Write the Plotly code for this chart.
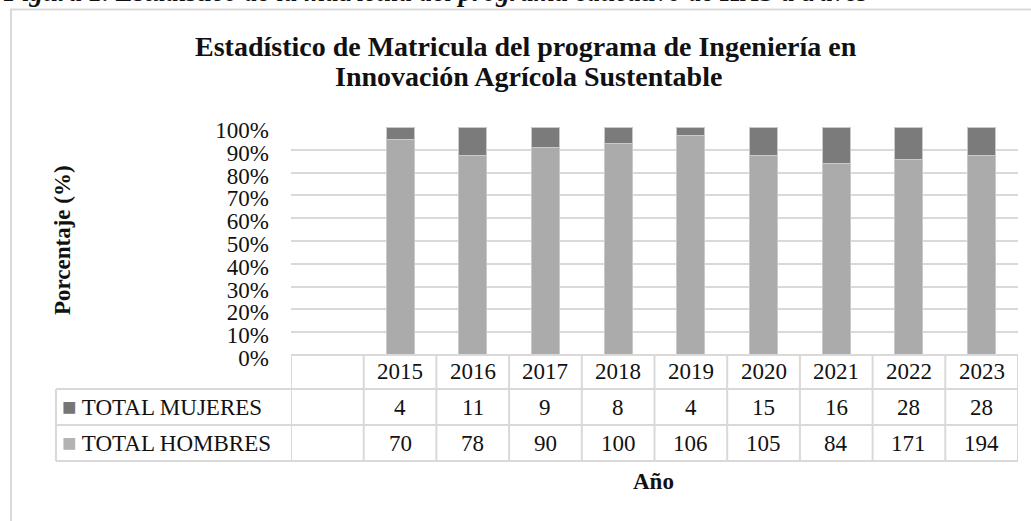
import plotly.graph_objects as go

# ---------------- data ----------------
years = ["2015", "2016", "2017", "2018", "2019", "2020", "2021", "2022", "2023"]
total_mujeres = [4, 11, 9, 8, 4, 15, 16, 28, 28]
total_hombres = [70, 78, 90, 100, 106, 105, 84, 171, 194]
row_labels = ["TOTAL MUJERES", "TOTAL HOMBRES"]
y_ticks = [0, 10, 20, 30, 40, 50, 60, 70, 80, 90, 100]

title_line1 = "Estadístico de Matricula del programa de Ingeniería en"
title_line2 = "Innovación Agrícola Sustentable"
caption = "Figura 1. Estadístico de la matrícula del programa educativo de IIAS a través"
y_title = "Porcentaje (%)"
x_title = "Año"

# ---------------- styling ----------------
W, H = 1031, 521
FONT = "Liberation Serif"
TXT = "#111111"
GRID = "#d9d9d9"
C_MUJ = "#7b7b7b"
C_HOM = "#ababab"
SW_MUJ = "#767676"
SW_HOM = "#b3b3b3"


def px(x):
    return x / W


def py(y):
    return 1 - y / H


PL, PR, PT, PB = 291, 1018, 127, 355
LEG_L = 56
ROW_Y = [355, 389, 425, 461]
CAP_H = 12  # strip at the very top holding the cut caption

fig = go.Figure()

fig.add_trace(go.Bar(
    x=years, y=total_hombres, name=row_labels[1],
    marker=dict(color=C_HOM, line=dict(color="#c9c9c9", width=1)),
    showlegend=False, hoverinfo="skip"))
fig.add_trace(go.Bar(
    x=years, y=total_mujeres, name=row_labels[0],
    marker=dict(color=C_MUJ, line=dict(color="#c9c9c9", width=1)),
    showlegend=False, hoverinfo="skip"))

# caption of the document page, cut by the top edge of the image
fig.add_trace(go.Scatter(
    x=[0], y=[1 + 5.5 / CAP_H], mode="text", text=[f"<b><i>{caption}</i></b>"],
    textposition="middle right", textfont=dict(family=FONT, size=27, color=TXT),
    xaxis="x3", yaxis="y3", cliponaxis=True, showlegend=False, hoverinfo="skip"))

n = len(years)
fig.update_layout(
    width=W, height=H,
    margin=dict(l=0, r=0, t=0, b=0, pad=0, autoexpand=False),
    paper_bgcolor="white", plot_bgcolor="white",
    barmode="stack", barnorm="percent", bargap=0.615,
    font=dict(family=FONT, size=23, color=TXT),
    xaxis=dict(domain=[px(PL), px(PR)], type="category", categoryarray=years,
               categoryorder="array", automargin=False,
               range=[-1.5, n - 0.5], showticklabels=False, showgrid=False,
               zeroline=False, showline=False, ticks=""),
    yaxis=dict(domain=[py(PB), py(PT)], range=[0, 100], tickvals=y_ticks,
               ticktext=[f"{v}%" for v in y_ticks], showgrid=True, automargin=False,
               gridcolor=GRID, gridwidth=2, zeroline=False, showline=False,
               ticks="", ticklabelstandoff=21, ticklabelshift=3,
               tickfont=dict(family=FONT, size=23, color=TXT)),
    xaxis3=dict(domain=[0, 1], range=[-0.004, 1], visible=False, fixedrange=True,
                automargin=False),
    yaxis3=dict(domain=[py(CAP_H), 1], range=[0, 1], visible=False, fixedrange=True,
                automargin=False),
)

shapes = []
# outer chart frame: only top and left edges fall inside the image
shapes.append(dict(type="line", xref="paper", yref="paper",
                   x0=px(10), x1=1, y0=py(9.5), y1=py(9.5),
                   line=dict(color=GRID, width=2)))
shapes.append(dict(type="line", xref="paper", yref="paper",
                   x0=px(11), x1=px(11), y0=py(9.5), y1=0,
                   line=dict(color=GRID, width=2)))

shapes.append(dict(type="line", xref="paper", yref="paper",
                   x0=px(PL), x1=px(PR), y0=py(ROW_Y[0]), y1=py(ROW_Y[0]),
                   line=dict(color=GRID, width=2)))
for yy in ROW_Y[1:]:
    shapes.append(dict(type="line", xref="paper", yref="paper",
                       x0=px(LEG_L), x1=px(PR), y0=py(yy), y1=py(yy),
                       line=dict(color=GRID, width=2)))
shapes.append(dict(type="line", xref="paper", yref="paper",
                   x0=px(LEG_L), x1=px(LEG_L), y0=py(ROW_Y[1]), y1=py(ROW_Y[3]),
                   line=dict(color=GRID, width=2)))
for i in range(n + 2):
    xb = i - 1.5
    shapes.append(dict(type="line", xref="x", yref="paper",
                       x0=xb, x1=xb, y0=py(ROW_Y[0]), y1=py(ROW_Y[3]),
                       line=dict(color=GRID, width=2)))

ann = []
hdr_c = (ROW_Y[0] + ROW_Y[1]) / 2
r1_c = (ROW_Y[1] + ROW_Y[2]) / 2
r2_c = (ROW_Y[2] + ROW_Y[3]) / 2
for i, (yr, m, h) in enumerate(zip(years, total_mujeres, total_hombres)):
    for txt, yc in [(yr, hdr_c), (str(m), r1_c), (str(h), r2_c)]:
        ann.append(dict(x=i, xref="x", y=py(yc), yref="paper", text=txt,
                        showarrow=False, xanchor="center", yanchor="middle"))

for lbl, col, yc in [(row_labels[0], SW_MUJ, r1_c), (row_labels[1], SW_HOM, r2_c)]:
    ann.append(dict(x=px(60), xref="paper", y=py(yc), yref="paper",
                    text=f"<span style='color:{col};font-size:24px'>■</span> {lbl}",
                    showarrow=False, xanchor="left", yanchor="middle"))

ann.append(dict(x=px(526), y=py(46.5), xref="paper", yref="paper",
                text=f"<b>{title_line1}</b>", showarrow=False,
                font=dict(size=28), xanchor="center", yanchor="middle"))
ann.append(dict(x=px(528), y=py(76), xref="paper", yref="paper",
                text=f"<b>{title_line2}</b>", showarrow=False,
                font=dict(size=28), xanchor="center", yanchor="middle"))
ann.append(dict(x=px(62), y=py(240), xref="paper", yref="paper",
                text=f"<b>{y_title}</b>", showarrow=False, textangle=-90,
                font=dict(size=23), xanchor="center", yanchor="middle"))
ann.append(dict(x=px(653), y=py(481), xref="paper", yref="paper",
                text=f"<b>{x_title}</b>", showarrow=False,
                font=dict(size=23), xanchor="center", yanchor="middle"))

fig.update_layout(shapes=shapes, annotations=ann)
fig.write_html("out.html", config={"displayModeBar": False},
               post_script="document.body.style.margin='0';")
